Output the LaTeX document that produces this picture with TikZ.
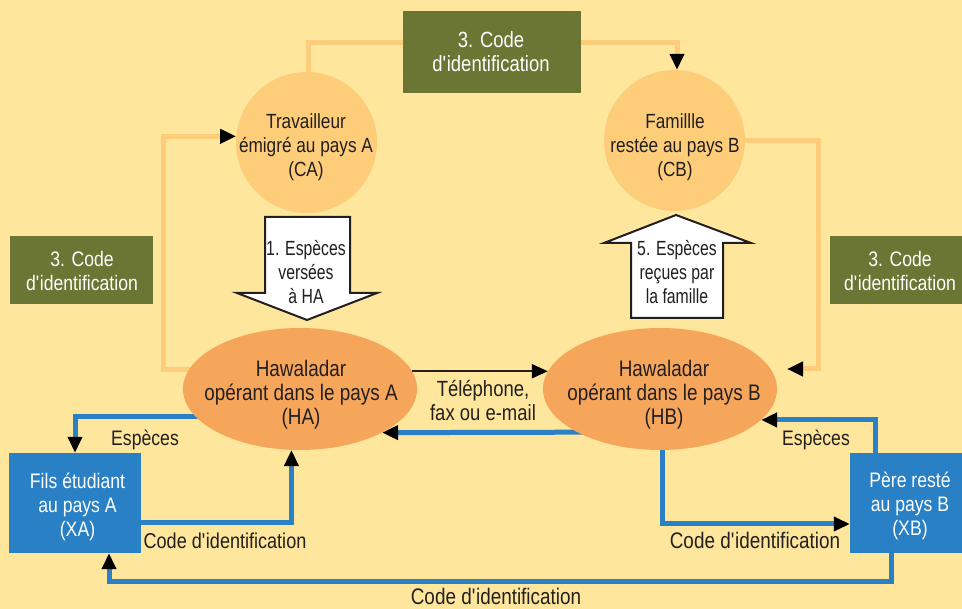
\documentclass[tikz,border=0pt]{standalone}
\usepackage{fontspec}
\setmainfont{Liberation Sans}[FakeStretch=0.84]
\newfontfamily\nfont{Liberation Sans}[FakeStretch=0.77]
\usetikzlibrary{arrows.meta,shapes.geometric}
\definecolor{bgc}{RGB}{254,230,156}
\definecolor{olv}{RGB}{107,117,52}
\definecolor{lor}{RGB}{253,205,122}
\definecolor{dor}{RGB}{246,166,91}
\definecolor{blu}{RGB}{41,128,197}
\definecolor{txt}{RGB}{35,31,32}
\pgfdeclarelayer{bg}
\pgfsetlayers{bg,main}
\newcommand\apos{\textquotesingle}
\newcommand\fsz[1]{\fontsize{#1}{24}\selectfont}
\begin{document}
\begin{tikzpicture}[x=1pt,y=-1pt,
  lbl/.style={font=\fsz{21}, text=txt, align=center, inner sep=0pt},
  wlbl/.style={lbl, text=white},
  gbox/.style={fill=olv, inner sep=0pt, minimum height=68pt},
  cnode/.style={circle, fill=lor, minimum size=141pt, inner sep=0pt},
  enode/.style={ellipse, fill=dor, minimum width=234pt, minimum height=122pt, inner sep=0pt},
  bbox/.style={fill=blu, inner sep=0pt, minimum height=100pt},
  oline/.style={draw=lor, line width=5pt},
  bline/.style={draw=blu, line width=5pt},
  blk/.style={-{Triangle[length=16pt,width=14pt,color=black]}},
  barrow/.style={draw=txt, line width=2pt, fill=white, line join=miter},
]
\useasboundingbox (0,0) rectangle (962,609);
\begin{pgfonlayer}{bg}
\fill[bgc] (0,0) rectangle (962,609);
\end{pgfonlayer}

% green boxes
\node[gbox, minimum width=178pt, minimum height=82pt] (top) at (492,52) {};
\node[wlbl, font=\fsz{22}] (toptx) at (491,52) {3. Code\\d\apos identification};
\node[gbox, minimum width=143pt] (lbox) at (81.5,270) {};
\node[wlbl] (ltx) at (82,271) {3. Code\\d\apos identification};
\node[gbox, minimum width=132pt] (rbox) at (896,270) {};
\node[wlbl] (rtx) at (900,271) {3. Code\\d\apos identification};

% circles
\node[cnode] (CA) at (306.5,142.5) {};
\node[lbl, font=\fsz{20.5}] (CAt) at (306,147) {Travailleur\\émigré au pays A\\(CA)};
\node[cnode] (CB) at (674.5,140.5) {};
\node[lbl, font=\fsz{20.5}] (CBt) at (675,147) {Famillle\\restée au pays B\\(CB)};

% ellipses
\node[enode] (HA) at (300,389) {};
\node[lbl, font=\fsz{22.5}] (HAt) at (301,395) {Hawaladar\\opérant dans le pays A\\(HA)};
\node[enode] (HB) at (660,389) {};
\node[lbl, font=\fsz{22.5}] (HBt) at (664,395) {Hawaladar\\opérant dans le pays B\\(HB)};

% blue boxes
\node[bbox, minimum width=132pt] (XA) at (75,503) {};
\node[wlbl] (XAt) at (77.5,507) {Fils étudiant\\au pays A\\(XA)};
\node[bbox, minimum width=112pt] (XB) at (906,503) {};
\node[wlbl] (XBt) at (910,506) {Père resté\\au pays B\\(XB)};

% block arrows
\draw[barrow] (265,217) -- (350,217) -- (350,293) -- (377,293) -- (307,320) -- (237,293) -- (265,293) -- cycle;
\node[lbl, font=\nfont\fsz{20.5}] (a1) at (306,272) {1. Espèces\\versées\\à HA};
\draw[barrow] (631,318) -- (631,243) -- (604,243) -- (676,215) -- (751,243) -- (723,243) -- (723,318) -- cycle;
\node[lbl, font=\nfont\fsz{20.5}] (a5) at (677,272) {5. Espèces\\reçues par\\la famille};

% connectors
\coordinate (lx) at (163,0);
\coordinate (lb) at (CA.175 -| lx);
\coordinate (rb) at (818,369);
\coordinate (rt) at (787,369);
\begin{pgfonlayer}{bg}
\draw[oline] ([xshift=1.5pt]CA.north) |- ([yshift=9pt]top.west);
\draw[oline, blk] ([yshift=9pt]top.east) -| ([xshift=2.5pt]CB.north);
\draw[oline, blk] ([yshift=19pt]HA.center) -| (lb) -- (CA.175);
\draw[oline, blk] (CB.east) -| (rb) -- (rt);
\draw[draw=txt, line width=2pt, blk] (HA.9) -- (HB.171);
\draw[bline, blk] ([yshift=-43pt]HB.center) -- (HA.332.6);
\draw[bline, blk] ([yshift=-28pt]HA.center) -| (XA.north);
\draw[bline, blk] ([yshift=-20pt]XA.east) -| (HA.262.5);
\draw[bline, blk] ([xshift=2pt]HB.center) |- ([yshift=-21pt]XB.west);
\draw[bline, blk] ([xshift=-31pt]XB.north) |- (HB.343);
\draw[bline, blk] ([xshift=-15pt]XB.south) -- ++(0,28) -| ([xshift=34pt]XA.south);
\end{pgfonlayer}

% labels
\node[lbl, font=\fsz{22}] (tel) at (483,401) {Téléphone,\\fax ou e-mail};
\node[lbl, anchor=base] (l1) at (145,446) {Espèces};
\node[lbl, anchor=base, font=\fsz{21.5}] (l2) at (225,548) {Code d\apos identification};
\node[lbl, anchor=base, font=\fsz{22.5}] (l3) at (755,549) {Code d\apos identification};
\node[lbl, anchor=base] (l4) at (816,446) {Espèces};
\node[lbl, anchor=base, font=\fsz{22.5}] (l5) at (496,605) {Code d\apos identification};
\end{tikzpicture}
\end{document}
